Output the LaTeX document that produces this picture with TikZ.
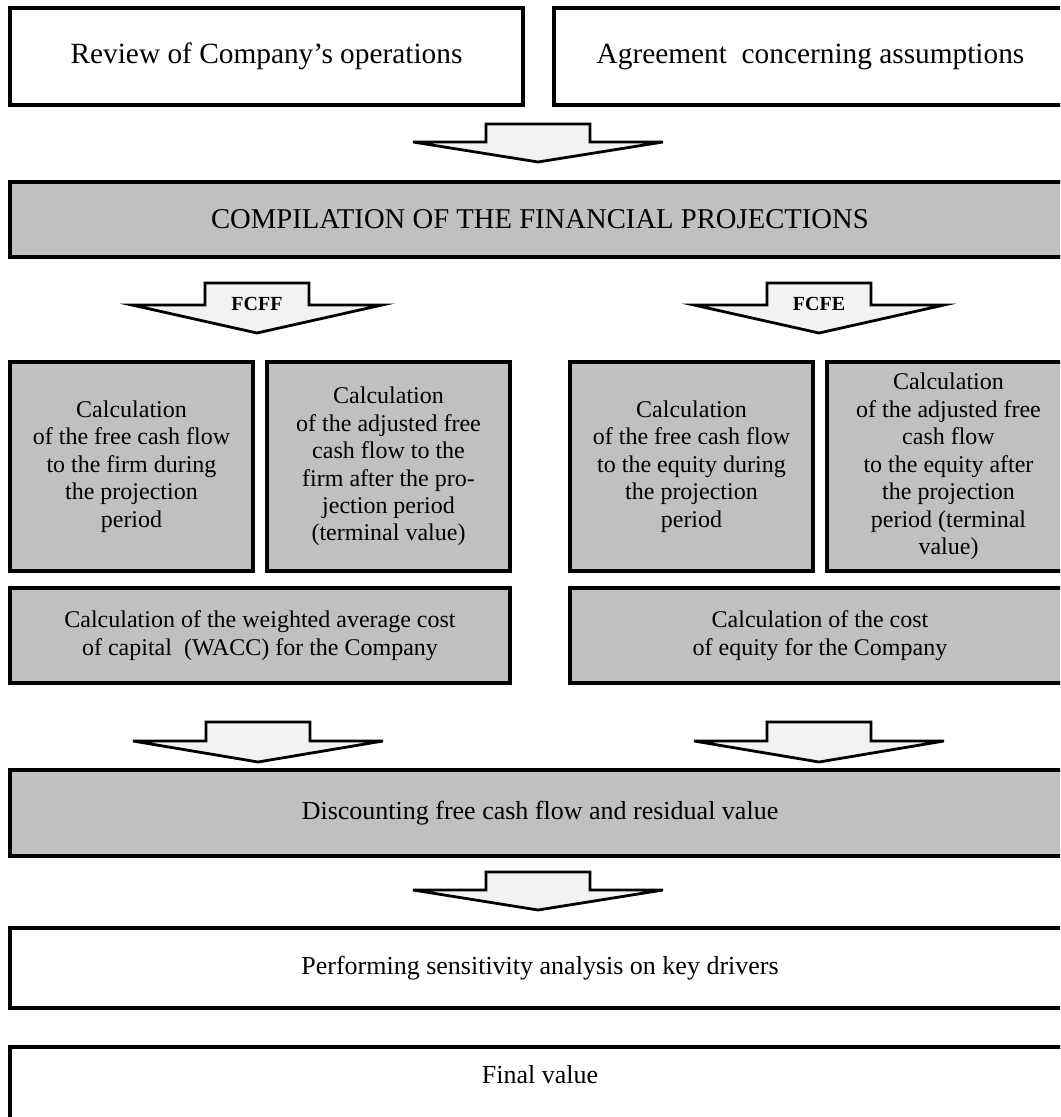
\documentclass[tikz,border=0pt]{standalone}
\usepackage{fontspec}
\setmainfont{Liberation Serif}
\definecolor{boxgrey}{RGB}{192,192,192}
\definecolor{arrowgrey}{RGB}{242,242,242}

\begin{document}
\begin{tikzpicture}[x=0.75pt,y=-0.75pt,
    box/.style={draw=black,line width=2.5pt,align=center,inner sep=0pt},
    greybox/.style={box,fill=boxgrey},
    whitebox/.style={box,fill=white},
    small/.style={font=\fontsize{18}{20.6}\selectfont},
    big/.style={font=\fontsize{19.5}{22}\selectfont},
    blockarrow/.style={draw=black,line width=2.1pt,fill=arrowgrey,line join=miter},
    pics/downarrow/.style 2 args={code={
      \path[blockarrow] (-52,0) -- (52,0) -- (52,#1) -- (125,#1) -- (0,#1+#2)
        -- (-125,#1) -- (-52,#1) -- cycle;}}
  ]
  \clip (0,0) rectangle (1060,1117);
  \fill[white] (0,0) rectangle (1060,1117);

  % Define the boxes
  \node[whitebox,font=\fontsize{22}{25}\selectfont,minimum width=384.75pt,minimum height=72.75pt] (review) at (266.5,56.5) {Review of Company’s operations};
  \node[whitebox,font=\fontsize{22}{25}\selectfont,minimum width=384.75pt,minimum height=72.75pt] (agree) at (810.5,56.5) {Agreement\ \ concerning assumptions};

  \node[greybox,font=\fontsize{21.5}{24}\selectfont,minimum width=795pt,minimum height=56.25pt] (comp) at (540,219.5) {COMPILATION OF THE FINANCIAL PROJECTIONS};

  \node[greybox,small,minimum width=182.25pt,minimum height=156.75pt] (fcffproj) at (131.5,466.5) {Calculation\\of the free cash flow\\to the firm during\\the projection\\period};
  \node[greybox,small,minimum width=182.25pt,minimum height=156.75pt] (fcffterm) at (388.5,466.5) {Calculation\\of the adjusted free\\cash flow to the\\firm after the pro-\\jection period\\(terminal value)};
  \node[greybox,small,minimum width=182.25pt,minimum height=156.75pt] (fcfeproj) at (691.5,466.5) {Calculation\\of the free cash flow\\to the equity during\\the projection\\period};
  \node[greybox,small,minimum width=182.25pt,minimum height=156.75pt] (fcfeterm) at (948.5,466.5) {Calculation\\of the adjusted free\\cash flow\\to the equity after\\the projection\\period (terminal\\value)};

  \node[greybox,small,minimum width=375pt,minimum height=71.25pt] (wacc) at (260,635.5) {Calculation of the weighted average cost\\of capital\ \ (WACC) for the Company};
  \node[greybox,small,minimum width=375pt,minimum height=71.25pt] (coe) at (820,635.5) {Calculation of the cost\\of equity for the Company};

  \node[greybox,big,minimum width=795pt,minimum height=64.5pt] (disc) at (540,813) {Discounting free cash flow and residual value};
  \node[whitebox,big,minimum width=795pt,minimum height=60pt] (sens) at (540,968) {Performing sensitivity analysis on key drivers};
  \node[whitebox,minimum width=795pt,minimum height=69.75pt] (final) at (540,1093.5) {};
  \node[big] (finaltext) at (540,1075) {Final value};

  % Draw the block arrows
  \pic at (538,124) {downarrow={18}{20}};
  \pic at (257,283) {downarrow={22}{28}};
  \pic at (819,283) {downarrow={22}{28}};
  \node[font=\fontsize{15}{17}\bfseries] (fcff) at (257,304) {FCFF};
  \node[font=\fontsize{15}{17}\bfseries] (fcfe) at (819,304) {FCFE};
  \pic at (258,722) {downarrow={19}{21}};
  \pic at (819,722) {downarrow={19}{21}};
  \pic at (538,872) {downarrow={18}{20}};
\end{tikzpicture}
\end{document}
